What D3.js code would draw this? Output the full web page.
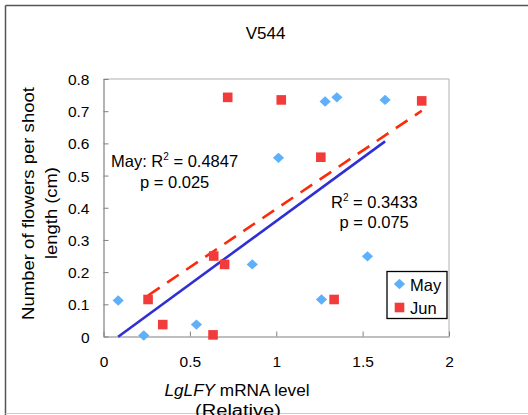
<!DOCTYPE html>
<html><head><meta charset="utf-8">
<script src="https://cdn.jsdelivr.net/npm/d3@7"></script>
<style>body{margin:0;background:#fff;overflow:hidden}</style>
</head><body><svg id="c" width="528" height="415"></svg>
<script>
// ---- data ----
const mayX = [0.085, 0.233, 0.538, 0.861, 1.013, 1.283, 1.351, 1.630, 1.528, 1.262];
const mayY = [0.112, 0.003, 0.037, 0.224, 0.555, 0.730, 0.743, 0.735, 0.249, 0.115];
const junX = [0.258, 0.343, 0.634, 0.638, 0.701, 0.719, 1.029, 1.842, 1.258, 1.335];
const junY = [0.115, 0.037, 0.005, 0.250, 0.224, 0.743, 0.735, 0.732, 0.557, 0.115];
const xTicks = [0, 0.5, 1, 1.5, 2];
const yTicks = [0, 0.1, 0.2, 0.3, 0.4, 0.5, 0.6, 0.7, 0.8];
const seriesNames = ["May", "Jun"];
const chartTitle = "V544";

const svg = d3.select("#c");
const FONT = "'Liberation Sans', Arial, Helvetica, sans-serif";
const C_MAY = "#5fb0fb", C_JUN = "#f23c3c", C_MAYLINE = "#2f2fd4", C_JUNLINE = "#fb2a0a";

const L = 103.5, R = 449, T = 79, B = 336.5;
const x = d3.scaleLinear().domain([0, 2]).range([L, R]);
const y = d3.scaleLinear().domain([0, 0.8]).range([B, T]);

// outer frame
svg.append("line").attr("x1",5.5).attr("y1",5.5).attr("x2",528).attr("y2",5.5).attr("stroke","#555").attr("stroke-width",1.5);
svg.append("line").attr("x1",5.5).attr("y1",5.5).attr("x2",5.5).attr("y2",415).attr("stroke","#555").attr("stroke-width",1.5);
svg.append("line").attr("x1",5.5).attr("y1",413.5).attr("x2",528).attr("y2",413.5).attr("stroke","#ccc").attr("stroke-width",1);

// plot frame (top/right lighter)
svg.append("line").attr("x1",L).attr("y1",T).attr("x2",R).attr("y2",T).attr("stroke","#b0b0b0");
svg.append("line").attr("x1",R).attr("y1",T).attr("x2",R).attr("y2",B).attr("stroke","#b0b0b0");

// axes
const xAxis = d3.axisBottom(x).tickValues(xTicks).tickSizeInner(-5).tickSizeOuter(0).tickPadding(17)
  .tickFormat(d => d3.format("")(d));
const gx = svg.append("g").attr("transform",`translate(0,${B})`).call(xAxis);
const yAxis = d3.axisLeft(y).tickValues(yTicks).tickSizeInner(-5).tickSizeOuter(0).tickPadding(14)
  .tickFormat(d => d === 0 ? "0" : d3.format(".1f")(d));
const gy = svg.append("g").attr("transform",`translate(${L},0)`).call(yAxis);
[gx, gy].forEach(g => {
  g.select(".domain").attr("stroke","#808080").attr("stroke-width",1.2);
  g.selectAll(".tick line").attr("stroke","#808080");
  g.selectAll(".tick text").attr("font-family",FONT).attr("font-size",15.5).attr("fill","#000");
});
gx.selectAll(".tick text").attr("dy",0).attr("y",30);
gy.selectAll(".tick text").attr("dy","0.36em");

// regression
function fit(xs, ys) {
  const mx = d3.mean(xs), my = d3.mean(ys);
  let sxy = 0, sxx = 0;
  xs.forEach((v,i) => { sxy += (v-mx)*(ys[i]-my); sxx += (v-mx)*(v-mx); });
  const b = sxy/sxx, a = my - b*mx;
  const x0 = d3.min(xs), x1 = d3.max(xs);
  return [[x0, a+b*x0],[x1, a+b*x1]];
}
const lineGen = d3.line().x(d => x(d[0])).y(d => y(d[1]));
svg.append("path").attr("d", lineGen(fit(mayX, mayY))).attr("stroke",C_MAYLINE).attr("stroke-width",2.6).attr("fill","none");
svg.append("path").attr("d", lineGen(fit(junX, junY))).attr("stroke",C_JUNLINE).attr("stroke-width",2.6).attr("fill","none")
  .attr("stroke-dasharray","14,9");

// markers
const diamond = (cx, cy, hw, hh) => `M${cx},${cy-hh}L${cx+hw},${cy}L${cx},${cy+hh}L${cx-hw},${cy}Z`;
const mayPts = mayX.map((v,i)=>[v, mayY[i]]);
const junPts = junX.map((v,i)=>[v, junY[i]]);
svg.append("g").selectAll("path").data(mayPts).join("path")
  .attr("d", d => diamond(x(d[0]), y(d[1]), 5.6, 5.2)).attr("fill", C_MAY);
const S = 9.6;
svg.append("g").selectAll("rect").data(junPts).join("rect")
  .attr("x", d => x(d[0]) - S/2).attr("y", d => y(d[1]) - S/2).attr("width",S).attr("height",S).attr("fill", C_JUN);

// title
svg.append("text").attr("x",265.5).attr("y",39).attr("text-anchor","middle").attr("font-family",FONT).attr("font-size",17).text(chartTitle);

// axis titles
const xt = svg.append("text").attr("x",237).attr("y",396).attr("text-anchor","middle").attr("font-family",FONT).attr("font-size",16)
  .attr("textLength",145).attr("lengthAdjust","spacingAndGlyphs");
xt.append("tspan").attr("font-style","italic").text("LgLFY");
xt.append("tspan").text(" mRNA level");
svg.append("text").attr("x",238).attr("y",416).attr("text-anchor","middle").attr("font-family",FONT).attr("font-size",16)
  .attr("textLength",86).attr("lengthAdjust","spacingAndGlyphs").text("(Relative)");

svg.append("text").attr("transform","translate(33.5,203.5) rotate(-90)").attr("text-anchor","middle").attr("font-family",FONT).attr("font-size",16)
  .attr("textLength",233).attr("lengthAdjust","spacingAndGlyphs").text("Number of flowers per shoot");
svg.append("text").attr("transform","translate(56.5,213) rotate(-90)").attr("text-anchor","middle").attr("font-family",FONT).attr("font-size",16)
  .attr("textLength",92).attr("lengthAdjust","spacingAndGlyphs").text("length (cm)");

// annotations
function r2text(xp, yp, prefix, val) {
  const t = svg.append("text").attr("x",xp).attr("y",yp).attr("font-family",FONT).attr("font-size",16.5);
  t.append("tspan").text(prefix + "R");
  t.append("tspan").attr("font-size",10).attr("dy",-7).text("2");
  t.append("tspan").attr("dy",7).text(" = " + val);
}
r2text(111, 167, "May: ", "0.4847");
svg.append("text").attr("x",140).attr("y",188).attr("font-family",FONT).attr("font-size",16.5).text("p = 0.025");
r2text(331, 208, "", "0.3433");
svg.append("text").attr("x",339.5).attr("y",227.5).attr("font-family",FONT).attr("font-size",16.5).text("p = 0.075");

// legend
const lg = svg.append("g");
lg.append("rect").attr("x",387).attr("y",271.5).attr("width",60).attr("height",47).attr("fill","#fff").attr("stroke","#000").attr("stroke-width",1.3);
lg.append("path").attr("d", diamond(399.5, 284, 5.6, 5.2)).attr("fill", C_MAY);
lg.append("rect").attr("x",399.5-S/2).attr("y",307.5-S/2).attr("width",S).attr("height",S).attr("fill",C_JUN);
lg.selectAll("text.lg").data(seriesNames).join("text").attr("class","lg")
  .attr("x",410).attr("y",(d,i)=>290.5+i*23).attr("font-family",FONT).attr("font-size",16.5).text(d=>d);
</script>
</body></html>
